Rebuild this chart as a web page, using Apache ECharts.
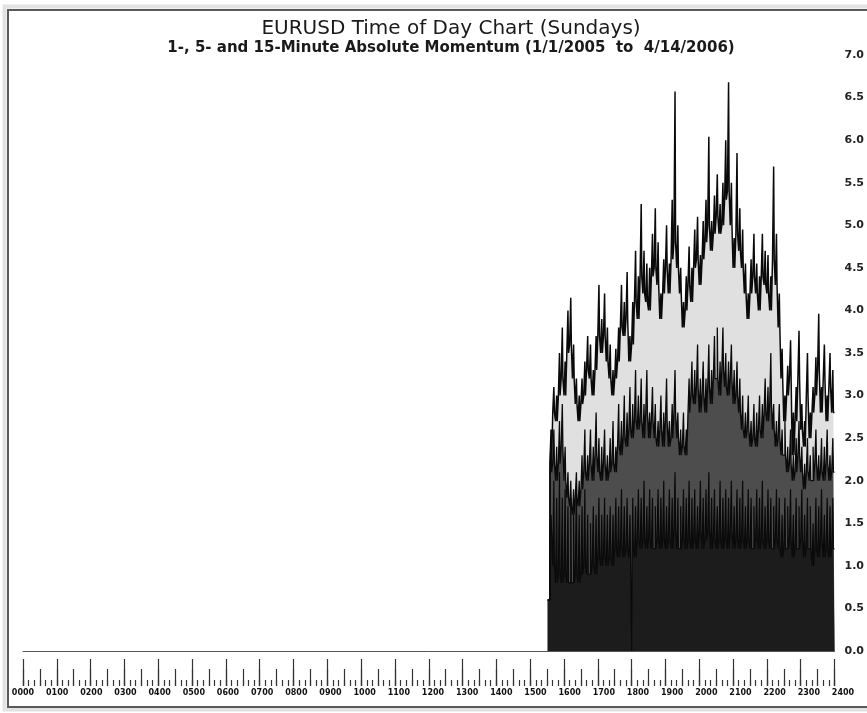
<!DOCTYPE html>
<html><head><meta charset="utf-8">
<script src="https://cdn.jsdelivr.net/npm/echarts@6/dist/echarts.min.js"></script>
<style>html,body{margin:0;padding:0;background:#fff}#c{width:867px;height:713px}</style>
</head><body><div id="c"></div>
<script>
// Start time (HHMM) of each 5-minute bin
const hhmm = [1531,1535,1540,1545,1550,1555,
1600,1605,1610,1615,1620,1625,1630,1635,1640,1645,1650,1655,
1700,1705,1710,1715,1720,1725,1730,1735,1740,1745,1750,1755,
1800,1805,1810,1815,1820,1825,1830,1835,1840,1845,1850,1855,
1900,1905,1910,1915,1920,1925,1930,1935,1940,1945,1950,1955,
2000,2005,2010,2015,2020,2025,2030,2035,2040,2045,2050,2055,
2100,2105,2110,2115,2120,2125,2130,2135,2140,2145,2150,2155,
2200,2205,2210,2215,2220,2225,2230,2235,2240,2245,2250,2255,
2300,2305,2310,2315,2320,2325,2330,2335,2340,2345,2350,2355];

// 15-minute momentum: typical level in each bin, and its 1-minute spike
const level15 = [0.6,2.2,2.8,2.7,3.0,3.2,3.0,3.5,3.6,3.2,
2.9,2.7,2.9,3.0,3.3,3.2,3.0,3.3,3.7,3.5,
3.7,3.4,3.2,3.0,3.2,3.4,3.8,3.7,3.9,3.4,
3.6,4.1,3.9,4.4,4.2,4.1,4.0,4.4,4.5,4.3,
3.9,4.2,4.5,4.2,4.6,4.8,4.5,4.2,3.8,4.0,
4.3,4.1,4.5,4.6,4.3,4.6,4.8,5.0,4.7,4.9,
5.1,4.9,5.0,5.3,5.4,5.0,4.5,4.9,4.7,4.5,
4.2,3.9,4.2,4.4,4.2,4.0,4.4,4.3,4.2,4.0,
4.6,4.3,3.8,3.2,2.7,3.0,3.2,2.3,2.7,3.2,
2.6,2.4,3.0,2.5,2.8,3.0,3.3,2.8,3.2,2.7,
3.1,2.8];
const spike15 = [0.6,2.6,3.1,3.0,3.5,3.8,3.4,4.0,4.15,3.6,
3.2,3.0,3.2,3.4,3.7,3.6,3.3,3.7,4.3,3.9,
4.2,3.8,3.6,3.3,3.55,3.8,4.3,4.1,4.45,3.7,
4.1,4.7,4.4,5.25,4.7,4.55,4.5,4.9,5.2,4.8,
4.2,4.6,5.0,4.55,5.3,6.57,5.0,4.5,4.1,4.4,
4.75,4.5,4.95,5.1,4.65,5.05,5.3,6.04,5.05,5.35,
5.6,5.25,5.5,6.0,6.68,5.5,4.85,5.85,5.2,4.95,
4.55,4.2,4.6,4.9,4.55,4.4,4.9,4.7,4.65,4.4,
5.69,4.9,4.2,3.55,3.0,3.35,3.65,2.8,3.1,3.76,
2.9,2.7,3.5,2.8,3.1,3.45,3.96,3.1,3.6,3.0,
3.5,3.3];

// 5-minute momentum
const level5 = [0.6,2.1,2.2,2.0,2.2,2.4,2.0,1.8,1.7,1.6,
1.8,1.7,1.9,2.1,2.0,2.2,2.0,2.3,2.1,2.0,
2.2,2.0,2.1,2.2,2.1,2.4,2.3,2.5,2.4,2.6,
2.5,2.7,2.6,2.7,2.5,2.8,2.5,2.7,2.5,2.4,
2.6,2.4,2.7,2.4,2.5,2.8,2.5,2.3,2.4,2.3,
2.8,3.0,2.9,3.1,2.8,3.0,2.8,3.1,2.9,3.2,
3.2,3.0,3.3,3.1,3.0,3.2,2.9,3.0,2.8,2.6,
2.5,2.6,2.4,2.5,2.4,2.6,2.5,2.8,2.7,2.9,
2.6,2.4,2.5,2.3,2.3,2.1,2.2,2.0,2.1,2.3,
2.1,1.9,2.1,2.0,2.0,2.2,2.0,2.1,2.0,2.2,
2.0,2.1];
const spike5 = [0.6,2.5,2.6,2.4,2.7,2.9,2.4,2.1,2.0,1.9,
2.1,2.0,2.3,2.6,2.3,2.6,2.4,2.8,2.5,2.4,
2.6,2.3,2.5,2.7,2.4,2.9,2.7,3.0,2.8,3.1,
2.9,3.3,3.0,3.2,2.9,3.3,2.8,3.1,2.9,2.7,
3.0,2.8,3.2,2.7,2.9,3.3,2.8,2.6,2.8,2.6,
3.2,3.4,3.3,3.6,3.2,3.4,3.2,3.6,3.3,3.7,
3.8,3.4,3.8,3.5,3.4,3.6,3.3,3.4,3.2,3.0,
2.8,3.0,2.7,2.9,2.8,3.0,2.9,3.2,3.1,3.5,
2.9,2.7,2.9,2.6,2.7,2.4,2.6,2.3,2.5,2.7,
2.4,2.2,2.5,2.3,2.4,2.6,2.3,2.5,2.4,2.6,
2.3,2.5];

// 1-minute momentum
const level1 = [0.6,1.4,1.0,0.8,0.9,0.8,0.9,0.8,0.8,0.8,
0.9,0.8,0.9,1.0,0.9,0.9,1.0,0.9,1.1,1.0,
1.1,1.0,1.1,1.0,1.2,1.1,1.2,1.1,1.2,1.1,
1.2,1.1,1.3,1.2,1.3,1.2,1.3,1.2,1.2,1.3,
1.2,1.3,1.2,1.3,1.2,1.4,1.2,1.2,1.3,1.2,
1.3,1.2,1.3,1.2,1.4,1.2,1.3,1.4,1.2,1.3,
1.2,1.3,1.2,1.3,1.2,1.4,1.2,1.3,1.2,1.3,
1.2,1.3,1.2,1.2,1.3,1.2,1.3,1.2,1.3,1.2,
1.2,1.3,1.2,1.1,1.2,1.2,1.3,1.1,1.2,1.2,
1.3,1.1,1.2,1.2,1.0,1.2,1.1,1.3,1.1,1.2,
1.1,1.2];
const spike1 = [0.6,1.6,2.0,1.8,2.1,1.8,1.9,1.7,1.8,1.6,
1.9,1.6,1.7,1.9,1.6,1.5,1.7,1.6,1.8,1.6,
1.8,1.6,1.7,1.6,1.8,1.7,1.9,1.7,1.8,1.6,
1.8,1.7,1.9,1.8,2.0,1.7,1.9,1.8,1.7,1.9,
1.8,2.0,1.7,1.9,1.8,2.1,1.8,1.7,1.9,1.8,
2.0,1.8,1.9,1.7,2.0,1.8,1.9,2.1,1.8,1.9,
1.7,2.0,1.8,1.9,1.8,2.0,1.7,1.9,1.8,2.0,
1.7,1.9,1.8,1.7,1.9,1.8,2.0,1.7,1.9,1.8,
1.7,1.9,1.8,1.6,1.8,1.7,1.9,1.6,1.8,1.7,
1.9,1.6,1.8,1.7,1.5,1.8,1.7,1.9,1.6,1.8,
1.7,1.8];

// one-minute drop visible at 18:00 in the 1-minute series
const mom1DipTimes = [1800];
const mom1DipValues = [0];

const yTicks = ['0.0','0.5','1.0','1.5','2.0','2.5','3.0','3.5','4.0','4.5','5.0','5.5','6.0','6.5','7.0'];
const hourLabels = ['0000','0100','0200','0300','0400','0500','0600','0700','0800','0900','1000','1100','1200',
'1300','1400','1500','1600','1700','1800','1900','2000','2100','2200','2300','2400'];

const toMin = t => Math.floor(t / 100) * 60 + t % 100;

// each bin: body level, a one-minute spike two minutes in, then back to the level
function build(levels, spikes, dipTimes, dipVals) {
  const dips = {};
  (dipTimes || []).forEach((t, k) => { dips[toMin(t)] = dipVals[k]; });
  const pts = [];
  hhmm.forEach((t, i) => {
    const m = toMin(t);
    if (i === 0) { pts.push([m, levels[i]]); return; }
    if (dips[m] !== undefined) { pts.push([m, dips[m]], [m + 1, levels[i]]); }
    else pts.push([m, levels[i]]);
    pts.push([m + 2, spikes[i]], [m + 3, levels[i]]);
  });
  pts.push([1440, levels[levels.length - 1]]);
  return pts;
}

const chart = echarts.init(document.getElementById('c'), null, {renderer: 'canvas'});
const FONT = '"DejaVu Sans", Verdana, sans-serif';

function rulerAxis(interval, len) {
  return {
    type: 'value', gridIndex: 0, min: 0, max: 1440, interval: interval,
    position: 'bottom', offset: 35,
    axisLine: {show: false, onZero: false},
    axisTick: {show: true, inside: true, length: len, lineStyle: {color: '#333', width: 1.2}},
    axisLabel: {show: false}, splitLine: {show: false}
  };
}

function series(name, levels, spikes, fill, lw, dipT, dipV) {
  return {
    name: name, type: 'line', step: 'end', xAxisIndex: 0, yAxisIndex: 0,
    data: build(levels, spikes, dipT, dipV), symbol: 'none', showSymbol: false,
    lineStyle: {color: '#0a0a0a', width: lw},
    areaStyle: {color: fill, opacity: 1},
    emphasis: {disabled: true}, animation: false
  };
}

chart.setOption({
  animation: false,
  backgroundColor: '#fff',
  title: [
    {text: 'EURUSD Time of Day Chart (Sundays)', left: 446, top: 14, textAlign: 'center',
     textStyle: {fontFamily: FONT, fontSize: 20, fontWeight: 'normal', color: '#1a1a1a'}},
    {text: '1-, 5- and 15-Minute Absolute Momentum (1/1/2005  to  4/14/2006)', left: 446, top: 36, textAlign: 'center',
     textStyle: {fontFamily: FONT, fontSize: 15, fontWeight: 'bold', color: '#1a1a1a'}}
  ],
  graphic: [
    {type: 'rect', silent: true, z: 100, shape: {x: 4.5, y: 6.5, width: 880, height: 703},
     style: {fill: 'none', stroke: '#e2e2e2', lineWidth: 4}},
    {type: 'rect', silent: true, z: 101, shape: {x: 8, y: 10, width: 880, height: 697},
     style: {fill: 'none', stroke: '#5a5a5a', lineWidth: 2}}
  ],
  grid: [
    {left: 23, right: 32, top: 55, bottom: 62},
    {left: 23, right: 24, top: 55, bottom: 62}
  ],
  xAxis: [
    {type: 'value', gridIndex: 0, min: 0, max: 1440, position: 'bottom',
     axisLine: {show: true, onZero: false, lineStyle: {color: '#555', width: 1}},
     axisTick: {show: false}, axisLabel: {show: false}, splitLine: {show: false}},
    rulerAxis(10, 6),
    rulerAxis(30, 17),
    rulerAxis(60, 27),
    {type: 'value', gridIndex: 1, min: 0, max: 1440, interval: 60, position: 'bottom', offset: 35,
     axisLine: {show: false, onZero: false}, axisTick: {show: false}, splitLine: {show: false},
     axisLabel: {show: true, margin: 3, color: '#111', fontFamily: FONT, fontSize: 8, fontWeight: 'bold',
       showMinLabel: true, showMaxLabel: true,
       formatter: v => hourLabels[Math.round(v / 60)]}}
  ],
  yAxis: [
    {type: 'value', gridIndex: 0, min: 0, max: 7, interval: 0.5, position: 'right',
     axisLine: {show: false}, axisTick: {show: false}, splitLine: {show: false},
     axisLabel: {show: true, margin: 10, color: '#222', fontFamily: FONT, fontSize: 11, fontWeight: 'bold',
       padding: [0, 0, 6, 0], formatter: v => yTicks[Math.round(v * 2)]}},
    {type: 'value', gridIndex: 1, min: 0, max: 1, show: false}
  ],
  series: [
    series('15-Minute', level15, spike15, '#e0e0e0', 1.5),
    series('5-Minute', level5, spike5, '#4d4d4d', 1.3),
    series('1-Minute', level1, spike1, '#1c1c1c', 1.2, mom1DipTimes, mom1DipValues)
  ]
});
</script>
</body></html>
